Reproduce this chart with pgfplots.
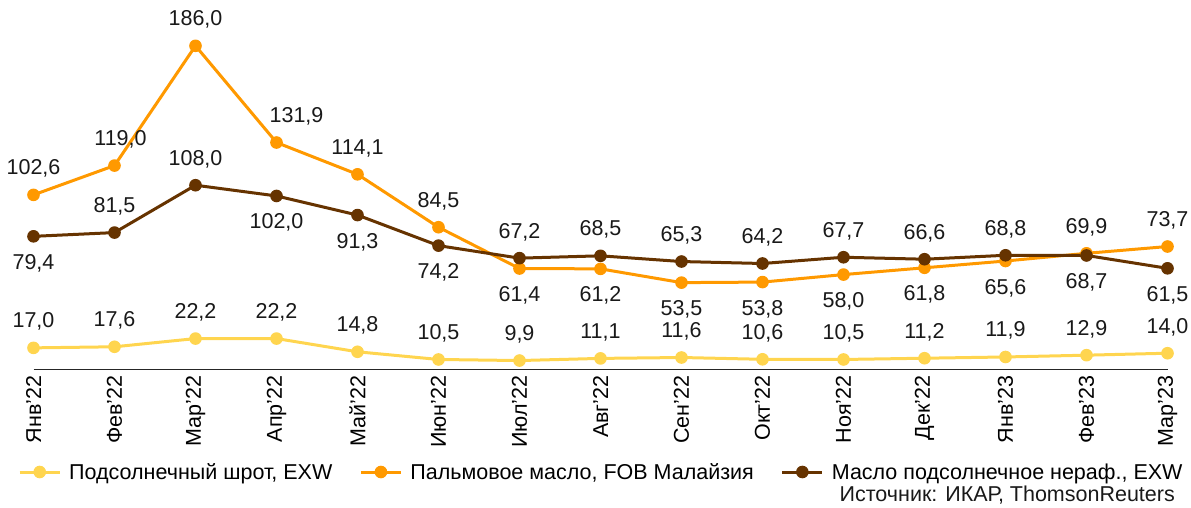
\documentclass[border=0pt]{standalone}
\usepackage{fontspec}
\setmainfont{Liberation Sans}
\usepackage{pgfplots}
\usepackage{pgfplotstable}
\pgfplotsset{compat=1.18}
\definecolor{cMeal}{HTML}{FFD54F}
\definecolor{cPalm}{HTML}{FF9900}
\definecolor{cSun}{HTML}{663300}
\newcommand{\lblfont}{\fontsize{21.5}{23}\selectfont}

% x = month index, dy/dx = label offset from point (pt)
\pgfplotstableread{
x y dy dx
0 17.0 20 0
1 17.6 20 0
2 22.2 20 0
3 22.2 20 0
4 14.8 20 0
5 10.5 20 0
6 9.9 20 0
7 11.1 20 0
8 11.6 20 0
9 10.6 20 0
10 10.5 20 0
11 11.2 20 0
12 11.9 20 0
13 12.9 20 0
14 14.0 20 0
}\meal
\pgfplotstableread{
x y dy dx
0 102.6 20 0
1 119.0 20 6
2 186.0 20 0
3 131.9 20 20
4 114.1 20 0
5 84.5 20 0
6 61.4 -33 0
7 61.2 -33 0
8 53.5 -33 0
9 53.8 -33 0
10 58.0 -33 0
11 61.8 -33 0
12 65.6 -33 0
13 69.9 20 0
14 73.7 20 0
}\palm
\pgfplotstableread{
x y dy dx
0 79.4 -33 0
1 81.5 20 0
2 108.0 20 0
3 102.0 -33 0
4 91.3 -33 0
5 74.2 -33 0
6 67.2 20 0
7 68.5 20 0
8 65.3 20 0
9 64.2 20 0
10 67.7 20 0
11 66.6 20 0
12 68.8 20 0
13 68.7 -33 0
14 61.5 -33 0
}\sun

\begin{document}
\begin{tikzpicture}
\begin{axis}[
  at={(0,0)}, anchor=south west,
  scale only axis, width=1134pt, height=348.5pt,
  xmin=0, xmax=14, ymin=5, ymax=200,
  clip=false,
  axis x line=bottom, axis y line=none,
  x axis line style={-, line width=1.3pt, black!85},
  xtick={0,...,14}, major tick length=0pt,
  xticklabels={Янв'22,Фев'22,Мар'22,Апр'22,Май'22,Июн'22,Июл'22,Авг'22,Сен'22,Окт'22,Ноя'22,Дек'22,Янв'23,Фев'23,Мар'23},
  x tick label style={rotate=90, anchor=east, inner sep=0pt, font=\lblfont},
  xticklabel shift=6pt,
  every axis plot/.append style={line width=3pt, mark=*, mark size=5.8pt},
  visualization depends on={\thisrow{dy} \as \dy},
  visualization depends on={\thisrow{dx} \as \dx},
  nodes near coords={\pgfmathprintnumber[fixed,fixed zerofill,precision=1,use comma,assume math mode=true]{\pgfplotspointmeta}},
  every node near coord/.append style={anchor=base, inner sep=0pt, yshift=\dy pt, xshift=\dx pt,
    font=\lblfont, text=black!90},
  legend columns=3,
  legend cell align=left,
  legend style={at={(-0.0163,-0.2947)}, anchor=west, draw=none, fill=none,
    font=\lblfont,
    /tikz/every odd column/.append style={column sep=6pt},
    /tikz/every even column/.append style={column sep=25pt}},
  legend image code/.code={\draw[mark repeat=2,mark phase=2] plot coordinates {(0pt,0pt)(20pt,0pt)(40pt,0pt)};},
]
\addplot[color=cMeal, mark options={fill=cMeal, line width=1pt}] table[x=x,y=y] {\meal};
\addlegendentry{Подсолнечный шрот, EXW}
\addplot[color=cPalm, mark options={fill=cPalm, line width=1pt}] table[x=x,y=y] {\palm};
\addlegendentry{Пальмовое масло, FOB Малайзия}
\addplot[color=cSun, mark options={fill=cSun, line width=1pt}] table[x=x,y=y] {\sun};
\addlegendentry{Масло подсолнечное нераф., EXW}
\node[anchor=east, inner sep=0pt, font=\lblfont, text=black!90]
  at (axis description cs:1.0066,-0.3607) {Источник: ИКАР, ThomsonReuters};
\end{axis}
\pgfresetboundingbox
\path[use as bounding box] (-33.5pt,-137.7pt) rectangle (1157.5pt,369.3pt);
\end{tikzpicture}
\end{document}
